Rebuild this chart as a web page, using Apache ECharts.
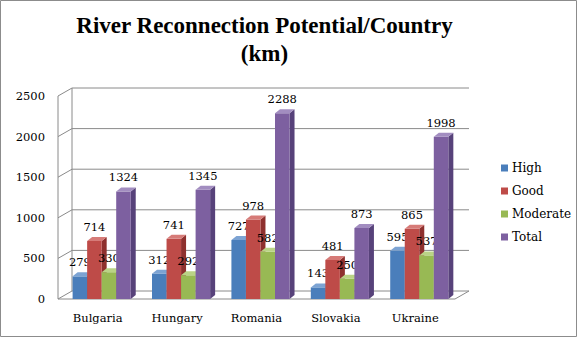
<!DOCTYPE html>
<html><head><meta charset="utf-8">
<script src="https://cdn.jsdelivr.net/npm/echarts@6/dist/echarts.min.js"></script>
<style>html,body{margin:0;padding:0;background:#fff}#c{width:577px;height:337px}</style>
</head><body><div id="c"></div>
<script>
const categories = ['Bulgaria','Hungary','Romania','Slovakia','Ukraine'];
const seriesNames = ['High','Good','Moderate','Total'];
const high = [279, 312, 727, 143, 595];
const good = [714, 741, 978, 481, 865];
const moderate = [330, 292, 582, 250, 537];
const total = [1324, 1345, 2288, 873, 1998];
const yTicks = [0, 500, 1000, 1500, 2000, 2500];
const titleText = 'River Reconnection Potential/Country\n(km)';

const allValues = [high, good, moderate, total];
const frontColors = ['#4A7EBB','#BE4B48','#98B954','#7D60A0'];
const topColors = ['#7CA3D3','#D67B78','#BAD386','#A28DC0'];
const sideColors = ['#325A8C','#8E302E','#6F8A38','#57427A'];
const serif = '"DejaVu Serif", serif';
const WALL_DX = 14, WALL_DY = -8, BAR_DX = 5, BAR_DY = -4;

function barRender(si){
  return function(params, api){
    const c = api.value(0), v = api.value(1);
    const base = api.coord([c, 0]);
    const tp = api.coord([c, v]);
    const band = api.size([1, 0])[0];
    const w = band * 0.183;
    const x = base[0] + band * 0.05 + (si - 2) * w;
    const y0 = base[1], y1 = tp[1];
    return {
      type: 'group',
      children: [
        {type:'polygon', shape:{points:[[x+w,y1],[x+w+BAR_DX,y1+BAR_DY],[x+w+BAR_DX,y0+BAR_DY],[x+w,y0]]}, style:{fill:sideColors[si]}},
        {type:'rect', shape:{x:x, y:y1, width:w, height:y0-y1}, style:{fill:frontColors[si]}},
        {type:'polygon', shape:{points:[[x,y1],[x+BAR_DX,y1+BAR_DY],[x+w+BAR_DX,y1+BAR_DY],[x+w,y1]]}, style:{fill:topColors[si]}},
        {type:'text', x:x+w/2, y:y1-14, style:{text:String(v), font:'11.5px '+serif, fill:'#000', align:'center', verticalAlign:'middle'}}
      ]
    };
  };
}

function wallRender(params, api){
  const v = api.value(1);
  const cs = params.coordSys;
  const y = api.coord([0, v])[1];
  const x0 = cs.x, x1 = cs.x + cs.width;
  const st = {stroke:'#8a8a8a', lineWidth:1, fill:null};
  const ch = [{type:'polyline', shape:{points:[[x0,y],[x0+WALL_DX,y+WALL_DY],[x1+WALL_DX,y+WALL_DY]]}, style:st}];
  if (v === 0) {
    ch.push({type:'polyline', shape:{points:[[x0,y],[x1,y],[x1+WALL_DX,y+WALL_DY]]}, style:st});
    ch.push({type:'line', shape:{x1:x0,y1:y,x2:x0,y2:cs.y}, style:st});
    ch.push({type:'line', shape:{x1:x0+WALL_DX,y1:y+WALL_DY,x2:x0+WALL_DX,y2:cs.y+WALL_DY}, style:st});
  }
  return {type:'group', children:ch};
}

const series = [{
  type:'custom', name:'walls', z:1, silent:true,
  data: yTicks.map(t => [0, t]),
  encode:{x:0, y:1},
  renderItem: wallRender
}];
allValues.forEach((vals, si) => {
  series.push({
    type:'custom', name: seriesNames[si], z:2+si,
    itemStyle:{color: frontColors[si]},
    data: vals.map((v, c) => [c, v]),
    encode:{x:0, y:1},
    renderItem: barRender(si)
  });
});

const chart = echarts.init(document.getElementById('c'), null, {renderer:'svg'});
chart.setOption({
  animation:false,
  color: frontColors,
  graphic:[
    {type:'rect', shape:{x:0.5,y:0.5,width:576,height:336}, style:{fill:null, stroke:'#8c8c8c', lineWidth:1}},
    {type:'text', x:264.5, y:11, style:{text:titleText, font:'bold 23px "Liberation Serif", serif', fill:'#000', align:'center', lineHeight:28}}
  ],
  legend:{
    data: seriesNames, orient:'vertical', left:496, top:157,
    icon:'rect', itemWidth:7, itemHeight:7, itemGap:11,
    textStyle:{fontFamily:serif, fontSize:12, color:'#000', padding:[0,0,0,-1]}
  },
  grid:{left:58, top:96, width:397, height:203},
  xAxis:{type:'category', data:categories, axisLine:{show:false}, axisTick:{show:false},
    axisLabel:{fontFamily:serif, fontSize:11.5, color:'#000', margin:13}},
  yAxis:{type:'value', min:0, max:2500, interval:500, axisLine:{show:false}, axisTick:{show:false}, splitLine:{show:false},
    axisLabel:{fontFamily:serif, fontSize:11.5, color:'#000', margin:13, formatter: v => String(v)}},
  series: series
});
</script></body></html>
